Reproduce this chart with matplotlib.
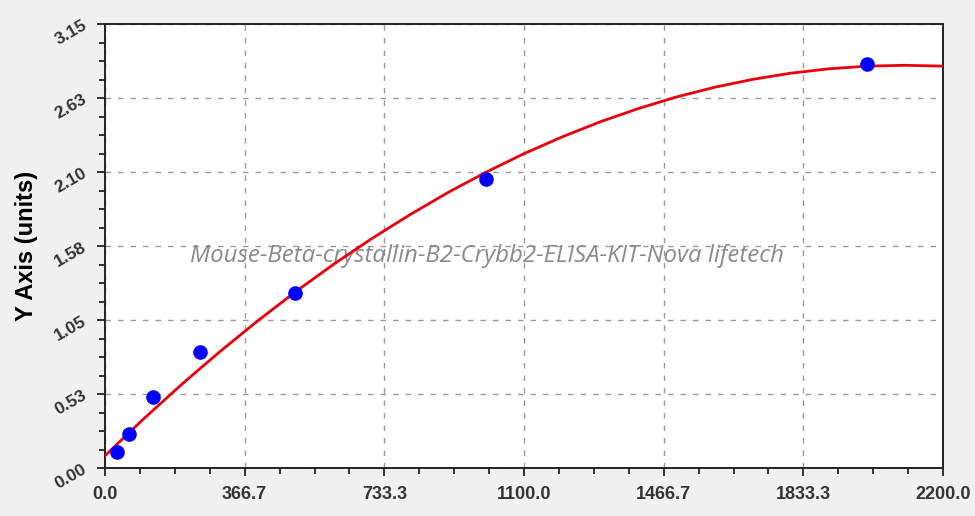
import numpy as np
import matplotlib.pyplot as plt
from matplotlib.ticker import FixedLocator, AutoMinorLocator

# standard points
std_x = [31.25, 62.5, 125, 250, 500, 1000, 2000]
std_y = [0.113, 0.243, 0.507, 0.826, 1.244, 2.047, 2.868]

# fitted curve, every 100 units
curve_x = [0, 100, 200, 300, 400, 500, 600, 700, 800, 900, 1000, 1100,
           1200, 1300, 1400, 1500, 1600, 1700, 1800, 1900, 2000, 2100, 2200]
curve_y = [0.087, 0.345, 0.590, 0.822, 1.042, 1.250, 1.445, 1.627, 1.796,
           1.954, 2.098, 2.230, 2.349, 2.456, 2.550, 2.632, 2.701, 2.757,
           2.801, 2.832, 2.851, 2.857, 2.851]

x_ticks = [0, 366.67, 733.33, 1100, 1466.67, 1833.33, 2200]
x_labels = ["0.0", "366.7", "733.3", "1100.0", "1466.7", "1833.3", "2200.0"]
y_ticks = [0, 0.525, 1.05, 1.575, 2.10, 2.625, 3.15]
y_labels = ["0.00", "0.53", "1.05", "1.58", "2.10", "2.63", "3.15"]

watermark = "Mouse-Beta-crystallin-B2-Crybb2-ELISA-KIT-Nova lifetech"

plt.rcParams['font.family'] = ['Liberation Sans', 'DejaVu Sans']

fig = plt.figure(figsize=(9.75, 5.16), dpi=100, facecolor='#f0f0f0')
ax = fig.add_axes([105 / 975, 48 / 516, 838 / 975, 444 / 516])
ax.set_facecolor('white')

ax.plot(curve_x, curve_y, color='#e8000b', lw=2.0, zorder=3)
ax.plot(std_x, std_y, 'o', color='#0000ff', ms=9.5, zorder=4)

ax.set_xlim(0, 2200)
ax.set_ylim(0, 3.15)
ax.xaxis.set_major_locator(FixedLocator(x_ticks))
ax.yaxis.set_major_locator(FixedLocator(y_ticks))
ax.set_xticklabels(x_labels, fontsize=13, fontweight='bold', color='#333333')
ax.set_yticklabels(y_labels, fontsize=12.5, fontweight='bold', color='#333333',
                   rotation=30, ha='right', va='center', rotation_mode='anchor')
ax.xaxis.set_minor_locator(AutoMinorLocator(4))
ax.yaxis.set_minor_locator(AutoMinorLocator(4))
ax.tick_params(which='major', direction='out', length=6, width=1.3, color='#222222')
ax.tick_params(which='minor', direction='out', length=4, width=1.3, color='#222222')
ax.tick_params(axis='x', pad=7)
ax.tick_params(axis='y', pad=8)

for s in ax.spines.values():
    s.set_color('#222222')
    s.set_linewidth(1.4)

ax.grid(True, which='major', color='#9a9a9a', linestyle=(0, (4, 5)), lw=1.0)

ax.set_ylabel("Y Axis (units)", fontsize=17, fontweight='bold', labelpad=10)

ax.text(0.456, 0.477, watermark, transform=ax.transAxes, ha='center', va='center',
        fontsize=17.3, style='italic', color='#8a8a8a', family=['Open Sans', 'DejaVu Sans'],
        zorder=2)

fig.savefig('out.png', dpi=100, facecolor=fig.get_facecolor())
